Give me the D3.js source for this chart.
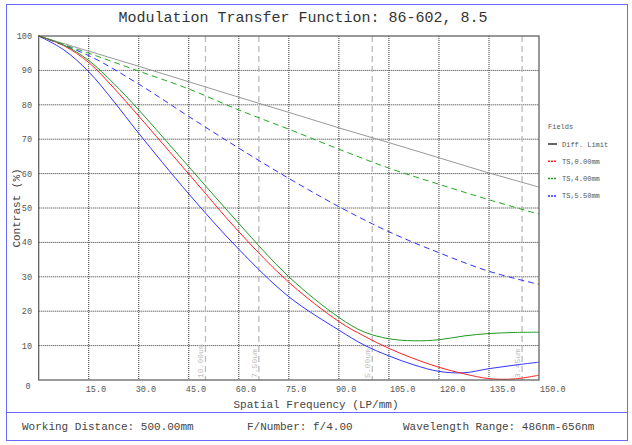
<!DOCTYPE html>
<html><head><meta charset="utf-8">
<script src="https://cdn.jsdelivr.net/npm/d3@7"></script>
<style>body{margin:0;background:#fff}svg{display:block}</style>
</head><body>
<svg id="c" width="632" height="445"></svg>
<script>
const freqs = [0,7.5,15,22.5,30,45,60,75,90,97.5,105,112.5,120,127.5,135,142.5,150];
const diffFreqs = [0,15,30,45,60,75,90,105,120,135,150];
const diffLimit = [100,95.6,91.2,86.7,82.2,77.8,73.3,69.0,64.6,60.2,56.1];
const t000 = [100,97.2,92.3,84.9,76.7,59.9,43.1,28.4,17.0,12.8,9.2,6.2,3.7,1.8,0.4,0.3,1.4];
const t400 = [100,97.4,92.9,86.2,78.5,62.0,45.5,30.0,18.2,14.0,12.0,11.4,11.7,12.8,13.5,13.8,13.9];
const t550 = [100,96.0,89.6,81.0,71.7,54.1,38.0,24.2,14.5,10.2,7.0,4.4,2.5,2.1,3.3,4.3,5.2];
const s400 = [100,95.0,89.8,84.6,78.5,72.9,67.1,61.6,56.9,52.4,48.2];
const s550 = [100,94.3,86.0,76.6,67.4,58.6,50.4,43.1,37.0,31.6,27.8];
const xTicks = [15,30,45,60,75,90,105,120,135,150];
const yTicks = [10,20,30,40,50,60,70,80,90,100];
const nyquist = [{f:50,label:"10.00um"},{f:66.0,label:"7.50um"},{f:100,label:"5.00um"},{f:144.93,label:"3.45um"}];
const legendItems = [{name:"Diff. Limit",color:"#333"},{name:"TS,0.00mm",color:"#f22"},{name:"TS,4.00mm",color:"#292"},{name:"TS,5.50mm",color:"#33f"}];

const svg = d3.select("#c");
const mono = "'Liberation Mono','Courier New',monospace";
const x = d3.scaleLinear().domain([0,150]).range([38.7,539]);
const y = d3.scaleLinear().domain([0,100]).range([380,36]);

// outer frame
svg.append("rect").attr("x",6.5).attr("y",4.5).attr("width",621).attr("height",436)
  .attr("fill","none").attr("stroke","#6a6aff").attr("stroke-width",1);
svg.append("line").attr("x1",6.5).attr("x2",627.5).attr("y1",412.5).attr("y2",412.5)
  .attr("stroke","#6a6aff");

svg.append("text").attr("x",303).attr("y",22).attr("text-anchor","middle")
  .attr("font-family",mono).attr("font-size",15).attr("fill","#333")
  .text("Modulation Transfer Function: 86-602, 8.5");

// grid
const g = svg.append("g");
g.selectAll(".vg").data(xTicks.slice(0,-1)).join("line")
  .attr("x1",d=>x(d)).attr("x2",d=>x(d)).attr("y1",y(100)).attr("y2",y(0))
  .attr("stroke","#333").attr("stroke-dasharray","1,1");
g.selectAll(".hg").data(yTicks.slice(0,-1)).join("line")
  .attr("y1",d=>y(d)).attr("y2",d=>y(d)).attr("x1",x(0)).attr("x2",x(150))
  .attr("stroke","#333").attr("stroke-dasharray","1,1");

// nyquist lines
g.selectAll(".nq").data(nyquist).join("line")
  .attr("x1",d=>x(d.f)).attr("x2",d=>x(d.f)).attr("y1",y(100)).attr("y2",y(0))
  .attr("stroke","#bbb").attr("stroke-width",1.3).attr("stroke-dasharray","6,4");
g.selectAll(".nqt").data(nyquist).join("text")
  .attr("transform",d=>`translate(${x(d.f)-2},${y(0)-2}) rotate(-90)`)
  .attr("font-family",mono).attr("font-size",8).attr("fill","#bbb")
  .text(d=>d.label);

// axes labels
svg.selectAll(".xl").data(xTicks).join("text")
  .attr("x",d=>x(d)-3+(d3.format(".1f")(d).length-4)*4).attr("y",392)
  .attr("font-family",mono).attr("font-size",8.5).attr("fill","#555")
  .text(d=>d3.format(".1f")(d));
svg.selectAll(".yl").data(yTicks).join("text")
  .attr("x",32).attr("y",d=>y(d)+3).attr("text-anchor","end")
  .attr("font-family",mono).attr("font-size",8.5).attr("fill","#555")
  .text(d=>d);
svg.append("text").attr("x",28).attr("y",389).attr("text-anchor","middle")
  .attr("font-family",mono).attr("font-size",8.5).attr("fill","#555").text("0");

svg.append("text").attr("x",316).attr("y",408).attr("text-anchor","middle")
  .attr("font-family",mono).attr("font-size",11).attr("fill","#444")
  .text("Spatial Frequency (LP/mm)");
svg.append("text").attr("transform","translate(20,208) rotate(-90)").attr("text-anchor","middle")
  .attr("font-family",mono).attr("font-size",11).attr("fill","#444")
  .text("Contrast (%)");

// footer
const foot = [{x:22,t:"Working Distance: 500.00mm"},{x:247,t:"F/Number: f/4.00"},{x:403,t:"Wavelength Range: 486nm-656nm"}];
svg.selectAll(".ft").data(foot).join("text").attr("x",d=>d.x).attr("y",430)
  .attr("font-family",mono).attr("font-size",11).attr("fill","#444").text(d=>d.t);

// curves
const line = d3.line().x(d=>x(d[0])).y(d=>y(d[1])).curve(d3.curveCatmullRom);
const zip = (f,v)=>f.map((d,i)=>[d,v[i]]);
const plot = svg.append("g");
plot.append("path").attr("d",line(zip(diffFreqs,diffLimit))).attr("fill","none").attr("stroke","#999").attr("stroke-width",1);
plot.append("path").attr("d",line(zip(diffFreqs,s400))).attr("fill","none").attr("stroke","#2a2").attr("stroke-width",1).attr("stroke-dasharray","6,4");
plot.append("path").attr("d",line(zip(diffFreqs,s550))).attr("fill","none").attr("stroke","#33f").attr("stroke-width",1).attr("stroke-dasharray","6,4");
plot.append("path").attr("d",line(zip(freqs,t550))).attr("fill","none").attr("stroke","#33f").attr("stroke-width",1);
plot.append("path").attr("d",line(zip(freqs,t000))).attr("fill","none").attr("stroke","#f22").attr("stroke-width",1);
plot.append("path").attr("d",line(zip(freqs,t400))).attr("fill","none").attr("stroke","#292").attr("stroke-width",1);

// plot frame
svg.append("rect").attr("x",x(0)).attr("y",y(100)).attr("width",x(150)-x(0)).attr("height",y(0)-y(100))
  .attr("fill","none").attr("stroke","#555").attr("stroke-width",1.2);

// legend
svg.append("text").attr("x",548).attr("y",129).attr("font-family",mono).attr("font-size",7).attr("fill","#555").text("Fields");
const lg = svg.selectAll(".lg").data(legendItems).join("g").attr("transform",(d,i)=>`translate(548,${144+i*17.3})`);
lg.append("line").attr("x1",0).attr("x2",9).attr("stroke",d=>d.color).attr("stroke-width",1.5)
  .attr("stroke-dasharray",(d,i)=>i===0?null:"2,1");
lg.append("text").attr("x",14).attr("y",2.5).attr("font-family",mono).attr("font-size",7).attr("fill","#555").text(d=>d.name);
</script>
</body></html>
